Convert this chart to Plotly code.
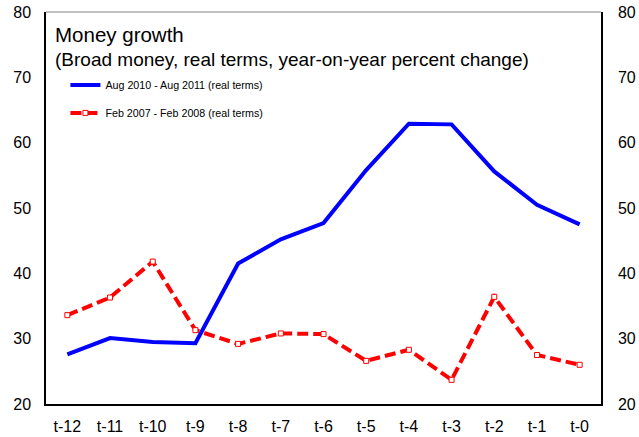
import plotly.graph_objects as go

# Months relative to the reference month
periods = ["t-12", "t-11", "t-10", "t-9", "t-8", "t-7", "t-6",
           "t-5", "t-4", "t-3", "t-2", "t-1", "t-0"]

# Broad money growth, real terms, y/y %
growth_2010_2011 = [27.6, 30.1, 29.5, 29.3, 41.5, 45.2, 47.7,
                    55.8, 62.9, 62.8, 55.6, 50.5, 47.5]
growth_2007_2008 = [33.6, 36.3, 41.8, 31.3, 29.2, 30.8, 30.7,
                    26.6, 28.3, 23.7, 36.4, 27.5, 26.0]

name_2010 = "Aug 2010 - Aug 2011 (real terms)"
name_2007 = "Feb 2007 - Feb 2008 (real terms)"

y_ticks = [20, 30, 40, 50, 60, 70, 80]

FONT = "Liberation Sans, Arial, sans-serif"

fig = go.Figure()

fig.add_trace(go.Scatter(
    x=periods, y=growth_2010_2011, name=name_2010, mode="lines",
    line=dict(color="#0000FF", width=4),
    legendgroup="a",
))
fig.add_trace(go.Scatter(
    x=periods, y=growth_2007_2008, name=name_2007, mode="lines+markers",
    line=dict(color="#FF0000", width=4, dash="11px,5px"),
    marker=dict(symbol="square", size=5, color="white",
                line=dict(color="#FF0000", width=1)),
    legendgroup="b",
))
# Mirror series for the right-hand axis labels
fig.add_trace(go.Scatter(
    x=periods, y=growth_2010_2011, yaxis="y2", mode="lines",
    line=dict(width=0), opacity=0, showlegend=False, hoverinfo="skip",
))

axis_font = dict(family=FONT, size=16, color="black")

fig.update_layout(
    width=639, height=437,
    margin=dict(l=46, r=38, t=12, b=33, autoexpand=False),
    paper_bgcolor="white", plot_bgcolor="white",
    font=dict(family=FONT, color="black"),
    xaxis=dict(
        type="category", range=[-0.5, 12.5], automargin=False,
        showgrid=False, zeroline=False,
        showline=True, linecolor="black", linewidth=1.5,
        ticks="", tickfont=axis_font, ticklabelstandoff=7,
    ),
    yaxis=dict(
        range=[20, 80], tickvals=y_ticks, automargin=False,
        showgrid=False, zeroline=False,
        showline=True, linecolor="black", linewidth=1.5,
        ticks="", tickfont=axis_font, ticklabelstandoff=10,
    ),
    yaxis2=dict(
        range=[20, 80], tickvals=y_ticks, overlaying="y", side="right",
        automargin=False,
        showgrid=False, zeroline=False,
        showline=True, linecolor="black", linewidth=1.5,
        ticks="", tickfont=axis_font, ticklabelstandoff=12,
    ),
    showlegend=True,
    legend=dict(
        x=0.035, y=0.851, xanchor="left", yanchor="top",
        bgcolor="rgba(0,0,0,0)", borderwidth=0,
        font=dict(family=FONT, size=10.7, color="black"),
        tracegroupgap=9, itemwidth=30,
    ),
    shapes=[dict(type="line", xref="paper", yref="paper",
                 x0=0, x1=1, y0=1, y1=1,
                 line=dict(color="#808080", width=1))],
    annotations=[
        dict(text="Money growth", xref="paper", yref="paper",
             x=0.012, y=0.976, xanchor="left", yanchor="top",
             showarrow=False, font=dict(family=FONT, size=20.5)),
        dict(text="(Broad money, real terms, year-on-year percent change)",
             xref="paper", yref="paper",
             x=0.012, y=0.911, xanchor="left", yanchor="top",
             showarrow=False, font=dict(family=FONT, size=19)),
    ],
)

fig.write_html("out.html")
